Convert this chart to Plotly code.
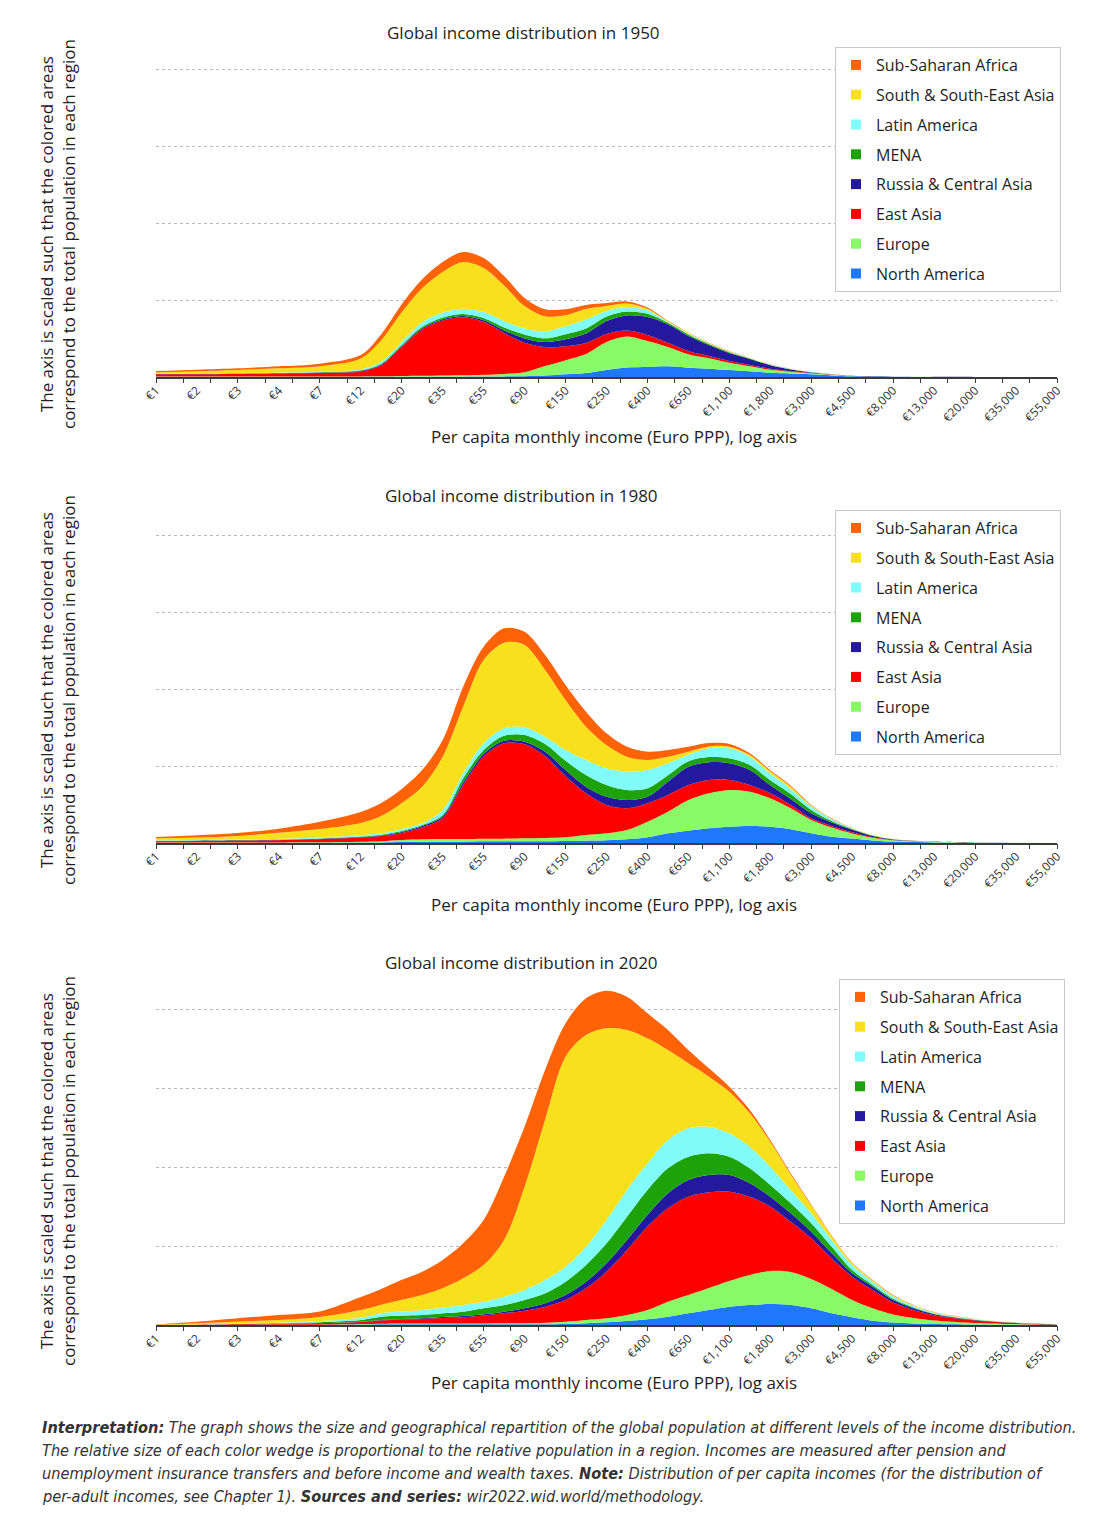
import numpy as np
import plotly.graph_objects as go

W, H = 1115, 1536

# ---------------- data ----------------
income_labels = ["€1", "€2", "€3", "€4", "€7", "€12", "€20", "€35", "€55", "€90", "€150",
                 "€250", "€400", "€650", "€1,100", "€1,800", "€3,000", "€4,500", "€8,000",
                 "€13,000", "€20,000", "€35,000", "€55,000"]

# sample positions on the (categorical, log-spaced) income axis, in label units
income_pos = [0, 1, 2, 3, 4, 5, 5.5, 6, 6.5, 7, 7.5, 8, 8.5, 9, 9.5, 10, 10.5, 11, 11.5, 12,
              12.5, 13, 13.5, 14, 14.5, 15, 15.5, 16, 16.5, 17, 17.5, 18, 18.5, 19, 20, 21, 22]

regions = ["North America", "Europe", "East Asia", "Russia & Central Asia", "MENA",
           "Latin America", "South & South-East Asia", "Sub-Saharan Africa"]
region_colors = ["#1F77FA", "#87FA66", "#FE0000", "#23199C", "#1DA20A",
                 "#80FBFA", "#F8E11C", "#FF6207"]

# ---- 1950 ----
na_1950 = [0.1, 0.1, 0.1, 0.1, 0.1, 0.1, 0.15, 0.2, 0.2, 0.3, 0.3, 0.4, 0.6, 0.8, 1.5, 2.8, 4.0, 7.0, 9.5, 10.0,
           10.7, 9.3, 8.3, 7.0, 5.7, 4.3, 3.5, 2.7, 1.6, 0.7, 0.4, 0.2, 0.12, 0.08, 0.04, 0.02, 0.01]
eu_1950 = [0.3, 0.3, 0.3, 0.35, 0.4, 0.5, 0.6, 0.8, 1.0, 1.2, 1.4, 1.8, 2.5, 4.0, 9.5, 14.0, 19.0, 28.0, 31.0, 26.0,
           19.3, 13.4, 10.4, 7.3, 5.0, 3.0, 1.8, 1.0, 0.6, 0.3, 0.15, 0.08, 0.05, 0.03, 0.01, 0.01, 0.0]
ea_1950 = [2.3, 2.4, 2.7, 3.0, 3.6, 5.0, 11.0, 29.0, 46.5, 55.0, 58.0, 53.0, 41.0, 29.5, 19.0, 14.0, 11.0, 8.0, 6.0, 6.0,
           4.3, 3.3, 2.3, 1.7, 1.3, 1.0, 0.6, 0.3, 0.2, 0.1, 0.05, 0.03, 0.02, 0.01, 0.0, 0.0, 0.0]
ru_1950 = [0.3, 0.3, 0.3, 0.35, 0.4, 0.5, 0.7, 0.9, 1.0, 1.2, 1.3, 1.5, 2.5, 4.3, 5.0, 7.0, 9.5, 13.0, 15.0, 18.0,
           18.4, 15.0, 11.0, 8.0, 6.0, 3.4, 1.6, 0.6, 0.3, 0.1, 0.05, 0.03, 0.02, 0.01, 0.0, 0.0, 0.0]
me_1950 = [0.1, 0.1, 0.15, 0.2, 0.3, 0.6, 0.9, 1.2, 1.5, 1.8, 2.0, 2.3, 3.0, 4.0, 3.7, 5.0, 5.0, 4.5, 4.0, 3.3,
           1.6, 1.5, 1.0, 0.8, 0.5, 0.4, 0.3, 0.2, 0.1, 0.05, 0.03, 0.01, 0.01, 0.0, 0.0, 0.0, 0.0]
la_1950 = [0.2, 0.2, 0.25, 0.3, 0.4, 1.0, 1.8, 3.5, 4.5, 5.0, 5.3, 6.0, 6.5, 6.0, 7.0, 8.0, 9.0, 5.5, 4.5, 3.4,
           0.7, 0.8, 0.6, 0.5, 0.3, 0.3, 0.2, 0.1, 0.06, 0.03, 0.02, 0.01, 0.01, 0.0, 0.0, 0.0, 0.0]
ss_1950 = [1.4, 2.3, 3.2, 4.4, 5.6, 10.8, 21.6, 29.1, 34.0, 40.5, 46.7, 44.0, 35.4, 22.4, 15.0, 11.0, 10.5, 5.0, 3.5, 1.6,
           0.7, 0.6, 0.4, 0.4, 0.15, 0.2, 0.15, 0.1, 0.05, 0.02, 0.01, 0.01, 0.0, 0.0, 0.0, 0.0, 0.0]
ssa_1950 = [1.3, 1.6, 1.7, 2.0, 2.5, 3.5, 6.0, 8.0, 9.0, 10.0, 10.0, 10.0, 9.5, 8.0, 7.0, 6.0, 4.0, 3.0, 2.0, 1.2,
            0.5, 0.4, 0.3, 0.3, 0.1, 0.1, 0.08, 0.05, 0.03, 0.01, 0.01, 0.0, 0.0, 0.0, 0.0, 0.0, 0.0]

# ---- 1980 ----
na_1980 = [0.1, 0.1, 0.1, 0.15, 0.2, 0.4, 0.6, 1.0, 1.3, 1.3, 1.3, 1.7, 1.7, 1.7, 1.7, 2.0, 2.3, 2.7, 3.7, 5.7,
           9.7, 12.3, 14.7, 16.3, 17.0, 16.3, 13.7, 9.7, 6.3, 4.5, 2.6, 1.4, 0.9, 0.6, 0.25, 0.1, 0.05]
eu_1980 = [0.3, 0.3, 0.3, 0.4, 0.5, 0.8, 1.2, 2.0, 2.4, 2.7, 2.7, 2.6, 2.6, 3.0, 3.3, 3.7, 5.7, 7.0, 9.3, 15.6,
           21.6, 30.7, 35.0, 36.7, 34.3, 28.4, 21.0, 13.3, 9.1, 5.0, 2.6, 1.3, 0.8, 0.5, 0.2, 0.08, 0.03]
ea_1980 = [1.3, 1.6, 1.9, 2.2, 3.0, 4.2, 5.2, 7.0, 12.0, 21.0, 54.0, 82.0, 95.4, 94.0, 82.0, 61.3, 41.7, 28.3, 21.7, 18.4,
           16.7, 15.0, 13.3, 10.0, 6.7, 5.0, 3.3, 1.7, 1.6, 1.2, 0.6, 0.3, 0.15, 0.1, 0.05, 0.02, 0.01]
ru_1980 = [0.3, 0.3, 0.35, 0.4, 0.5, 0.5, 0.5, 1.0, 1.3, 1.5, 2.3, 2.7, 2.6, 2.6, 4.3, 6.0, 6.6, 8.3, 8.3, 6.6,
           13.3, 18.3, 17.7, 16.7, 15.0, 8.0, 6.0, 5.0, 3.4, 2.5, 1.2, 0.5, 0.3, 0.15, 0.06, 0.02, 0.01]
me_1980 = [0.2, 0.2, 0.25, 0.3, 0.4, 0.6, 0.8, 1.0, 1.0, 1.5, 4.4, 4.0, 5.0, 6.7, 7.7, 9.3, 11.7, 11.7, 10.0, 8.4,
           6.5, 5.5, 5.2, 5.0, 5.0, 5.0, 5.0, 3.4, 1.6, 0.8, 0.4, 0.2, 0.1, 0.06, 0.02, 0.01, 0.0]
la_1980 = [0.5, 0.5, 0.6, 0.8, 1.0, 1.3, 1.4, 2.0, 1.7, 5.0, 5.0, 6.7, 7.4, 7.7, 7.3, 10.7, 15.0, 16.7, 18.3, 18.3,
           11.9, 6.5, 9.0, 10.0, 8.3, 6.7, 5.0, 3.3, 1.7, 0.6, 0.3, 0.15, 0.08, 0.05, 0.02, 0.01, 0.0]
ss_1980 = [2.0, 2.4, 3.5, 5.9, 8.3, 12.2, 17.3, 26.0, 36.6, 53.3, 66.6, 83.3, 85.6, 82.3, 66.7, 50.0, 33.3, 23.3, 15.0, 10.0,
           6.6, 3.0, 1.6, 1.6, 1.7, 2.3, 2.3, 1.0, 0.6, 0.3, 0.2, 0.1, 0.05, 0.03, 0.01, 0.0, 0.0]
ssa_1980 = [1.3, 2.3, 3.0, 4.2, 7.3, 11.0, 13.0, 14.0, 16.7, 16.7, 20.0, 13.3, 14.4, 13.3, 15.0, 15.0, 15.0, 11.7, 10.0, 8.3,
            6.7, 5.0, 3.4, 2.7, 1.7, 1.0, 1.0, 0.7, 0.4, 0.1, 0.1, 0.05, 0.02, 0.01, 0.0, 0.0, 0.0]

# ---- 2020 ----
na_2020 = [0.0, 0.0, 0.0, 0.05, 0.1, 0.4, 0.7, 0.7, 0.7, 0.7, 0.7, 0.7, 0.7, 0.7, 0.7, 1.0, 1.7, 2.7, 4.0, 5.7,
           8.3, 11.7, 15.0, 18.3, 20.0, 21.0, 20.0, 16.7, 11.7, 7.7, 4.3, 2.5, 1.5, 1.0, 0.5, 0.2, 0.05]
eu_2020 = [0.0, 0.0, 0.05, 0.1, 0.2, 0.5, 0.6, 0.8, 0.8, 0.8, 0.8, 0.8, 1.0, 1.0, 1.6, 2.3, 3.3, 4.0, 6.0, 9.3,
           15.0, 18.3, 22.0, 25.7, 30.0, 33.0, 33.0, 29.3, 24.3, 17.3, 12.4, 8.0, 5.5, 3.5, 1.6, 0.7, 0.15]
ea_2020 = [0.1, 0.3, 0.6, 0.9, 1.4, 2.0, 3.2, 4.0, 4.5, 5.5, 6.2, 8.0, 10.0, 12.6, 16.0, 21.7, 31.7, 46.6, 65.0, 83.3,
           93.4, 98.3, 95.7, 89.3, 78.3, 64.3, 50.3, 40.7, 30.7, 23.3, 18.3, 12.0, 8.0, 5.2, 2.4, 1.0, 0.2]
ru_2020 = [0.0, 0.05, 0.1, 0.15, 0.2, 0.4, 0.5, 0.5, 0.7, 1.0, 1.3, 1.2, 1.6, 2.4, 3.4, 5.0, 6.6, 8.4, 10.0, 11.7,
           15.0, 16.7, 17.3, 16.7, 13.4, 10.0, 8.4, 6.6, 5.0, 3.4, 3.3, 2.5, 1.7, 1.1, 0.5, 0.2, 0.04]
me_2020 = [0.05, 0.1, 0.3, 0.5, 0.9, 1.7, 3.3, 3.4, 3.3, 3.7, 4.3, 6.0, 6.7, 8.3, 10.0, 13.3, 16.7, 20.0, 23.3, 25.0,
           25.0, 23.3, 21.7, 18.3, 15.0, 11.7, 10.0, 8.4, 6.6, 3.3, 1.7, 1.2, 0.8, 0.5, 0.25, 0.1, 0.02]
la_2020 = [0.05, 0.15, 0.4, 0.6, 1.0, 2.2, 3.5, 4.1, 5.0, 5.6, 6.7, 6.6, 8.3, 10.0, 13.3, 15.0, 18.3, 23.3, 26.7, 26.7,
           28.3, 28.4, 26.6, 23.4, 21.6, 18.3, 13.3, 10.0, 6.7, 5.0, 3.3, 2.3, 1.5, 1.0, 0.45, 0.2, 0.04]
ss_2020 = [0.2, 1.1, 2.0, 2.7, 4.2, 7.7, 8.5, 11.7, 15.0, 19.4, 26.7, 36.7, 56.7, 103.3, 160.0, 210.0, 211.7, 191.7, 160.0, 125.0,
           90.0, 65.0, 50.0, 41.6, 33.4, 25.0, 15.5, 8.0, 4.0, 2.0, 1.2, 1.0, 0.7, 0.5, 0.2, 0.07, 0.01]
ssa_2020 = [0.3, 1.6, 3.3, 5.0, 5.5, 13.0, 15.7, 20.0, 23.3, 28.3, 35.0, 45.0, 63.3, 60.0, 50.0, 33.4, 36.7, 37.6, 33.3, 25.0,
            20.0, 13.3, 8.4, 5.0, 3.3, 1.7, 1.2, 0.8, 0.6, 0.5, 0.5, 0.5, 0.3, 0.2, 0.1, 0.03, 0.01]

years = [1950, 1980, 2020]
series_by_year = [
    [na_1950, eu_1950, ea_1950, ru_1950, me_1950, la_1950, ss_1950, ssa_1950],
    [na_1980, eu_1980, ea_1980, ru_1980, me_1980, la_1980, ss_1980, ssa_1980],
    [na_2020, eu_2020, ea_2020, ru_2020, me_2020, la_2020, ss_2020, ssa_2020],
]

# ---------------- layout geometry (pixels) ----------------
panels = [
    dict(top=66, bottom=377, ymax=311, dtick=77, title_y=32, title_x=523, xt_y=437, yt_y=234,
         leg_x=835, leg_y=47),
    dict(top=531, bottom=843, ymax=312, dtick=77, title_y=495, title_x=521, xt_y=904, yt_y=690,
         leg_x=835, leg_y=510),
    dict(top=985, bottom=1325, ymax=340, dtick=79, title_y=962, title_x=521, xt_y=1382, yt_y=1171,
         leg_x=839, leg_y=979),
]
PLOT_L, PLOT_R = 156, 1057
FONT = "'Open Sans', 'Noto Sans', sans-serif"
TXT = "#1e1e1e"


def fx(px):
    return px / W


def fy(py):
    return 1 - py / H


fig = go.Figure()
layout = dict(
    width=W, height=H, margin=dict(l=0, r=0, t=0, b=0, pad=0),
    paper_bgcolor="white", plot_bgcolor="white", showlegend=True,
    font=dict(family=FONT, color=TXT),
    annotations=[],
)

minor_ticks = list(np.linspace(0, 22, 34))

for k, (year, series, p) in enumerate(zip(years, series_by_year, panels)):
    n = k + 1
    xa = "x" if n == 1 else f"x{n}"
    ya = "y" if n == 1 else f"y{n}"
    xo = f"x{n + 3}"
    leg = "legend" if n == 1 else f"legend{n}"
    xkey = "xaxis" if n == 1 else f"xaxis{n}"
    ykey = "yaxis" if n == 1 else f"yaxis{n}"

    for name, vals, col in zip(regions, series, region_colors):
        fig.add_trace(go.Scatter(
            x=income_pos, y=vals, xaxis=xa, yaxis=ya, stackgroup=f"s{n}",
            mode="lines", line=dict(width=0, shape="spline", smoothing=0.9, color=col),
            fillcolor=col, name=name, showlegend=False, hoverinfo="skip",
        ))
    # legend entries (small squares), top to bottom
    for name, col in zip(regions[::-1], region_colors[::-1]):
        fig.add_trace(go.Scatter(
            x=[None], y=[None], xaxis=xa, yaxis=ya, mode="markers",
            marker=dict(symbol="square", size=10, color=col),
            name=name, legend=leg, legendgroup=f"{year}-{name}", showlegend=True,
            hoverinfo="skip",
        ))
    # invisible trace for the minor-tick overlay axis
    fig.add_trace(go.Scatter(x=[0], y=[0], xaxis=xo, yaxis=ya, mode="markers",
                             marker=dict(opacity=0), showlegend=False, hoverinfo="skip"))

    layout[xkey] = dict(
        domain=[fx(PLOT_L), fx(PLOT_R)], anchor=ya, range=[0, 22], automargin=False,
        tickmode="array", tickvals=list(range(len(income_labels))), ticktext=income_labels,
        tickangle=-45, ticks="", showgrid=False, zeroline=False,
        showline=True, linecolor="#3a3a3a", linewidth=1.5,
        tickfont=dict(family=FONT, size=12, color="#333333"), fixedrange=True,
    )
    layout[f"xaxis{n + 3}"] = dict(
        overlaying=xa, anchor=ya, range=[0, 22], tickmode="array", tickvals=minor_ticks,
        automargin=False, ticks="outside", ticklen=5, tickwidth=1, tickcolor="#3a3a3a",
        showticklabels=False, showgrid=False, zeroline=False, showline=False, fixedrange=True,
    )
    layout[ykey] = dict(
        domain=[fy(p["bottom"]), fy(p["top"])], anchor=xa, range=[0, p["ymax"]], automargin=False,
        tick0=0, dtick=p["dtick"], showticklabels=False, ticks="", zeroline=False,
        showline=False, showgrid=True, gridcolor="#b8b8b8", griddash="dot", gridwidth=1,
        fixedrange=True,
    )
    layout[leg] = dict(
        x=fx(p["leg_x"]), y=fy(p["leg_y"]), xanchor="left", yanchor="top",
        bgcolor="white", bordercolor="#c8c8c8", borderwidth=1,
        font=dict(family=FONT, size=16, color=TXT), traceorder="grouped",
        tracegroupgap=6, itemwidth=30,
    )
    layout["annotations"] += [
        dict(text=f"Global income distribution in {year}", x=fx(p["title_x"]), y=fy(p["title_y"]),
             xref="paper", yref="paper", showarrow=False, xanchor="center", yanchor="middle",
             font=dict(family=FONT, size=17, color=TXT)),
        dict(text="Per capita monthly income (Euro PPP), log axis", x=fx(614), y=fy(p["xt_y"]),
             xref="paper", yref="paper", showarrow=False, xanchor="center", yanchor="middle",
             font=dict(family=FONT, size=17, color=TXT)),
        dict(text="The axis is scaled such that the colored areas<br>correspond to the total population in each region",
             x=fx(57), y=fy(p["yt_y"]), xref="paper", yref="paper", showarrow=False,
             textangle=-90, xanchor="center", yanchor="middle",
             font=dict(family=FONT, size=17, color=TXT)),
    ]

note_lines = [
    "<b>Interpretation:</b> The graph shows the size and geographical repartition of the global population at different levels of the income distribution.",
    "The relative size of each color wedge is proportional to the relative population in a region. Incomes are measured after pension and",
    "unemployment insurance transfers and before income and wealth taxes. <b>Note:</b> Distribution of per capita incomes (for the distribution of",
    "per-adult incomes, see Chapter 1). <b>Sources and series:</b> wir2022.wid.world/methodology.",
]
for i, line in enumerate(note_lines):
    layout["annotations"].append(dict(
        text=f"<i>{line}</i>", x=fx(40), y=fy(1427 + 23 * i), xref="paper", yref="paper",
        showarrow=False, xanchor="left", yanchor="middle", align="left",
        font=dict(family="'Liberation Sans Narrow', 'DejaVu Sans Condensed', sans-serif", size=16.2, color="#333333"),
    ))

fig.update_layout(**layout)
fig.write_html("out.html", config={"displayModeBar": False},
               post_script="document.body.style.margin='0';")
